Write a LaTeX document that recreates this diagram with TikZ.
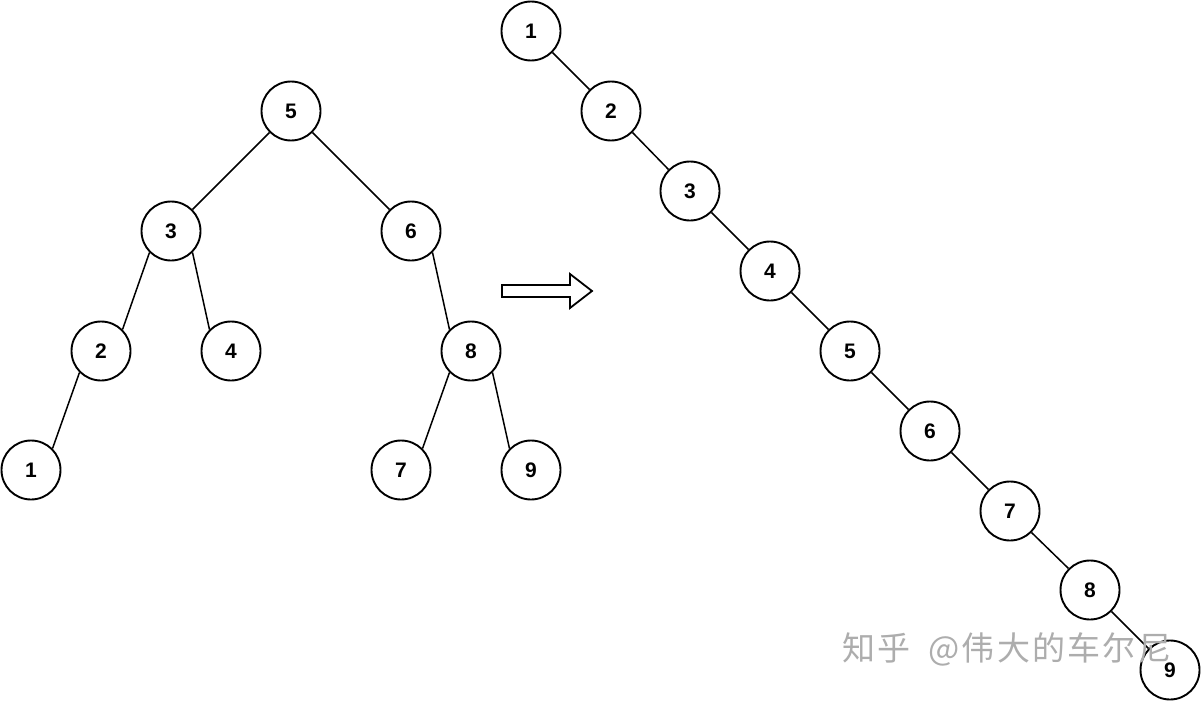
\documentclass[tikz,border=0pt]{standalone}
\usepackage{fontspec}
\setmainfont{Liberation Sans}
\newfontfamily\cjk[LetterSpace=7]{Noto Sans CJK SC}
\begin{document}
\begin{tikzpicture}[x=1pt,y=-1pt,
  tn/.style={circle,draw,line width=1.9pt,minimum size=59pt,inner sep=0pt,font=\fontsize{21}{21}\selectfont\bfseries},
  edge/.style={line width=1.5pt}]
\useasboundingbox (0,0) rectangle (1201,701);
% left tree
\node[tn] (a5) at (291,111) {5};
\node[tn] (a3) at (171,231) {3};
\node[tn] (a6) at (411,231) {6};
\node[tn] (a2) at (101,351) {2};
\node[tn] (a4) at (231,351) {4};
\node[tn] (a8) at (471,351) {8};
\node[tn] (a1) at (31,470) {1};
\node[tn] (a7) at (401,470) {7};
\node[tn] (a9) at (531,470) {9};
\draw[edge] (a5.-135)--(a3.45);
\draw[edge] (a5.-45)--(a6.135);
\draw[edge] (a3.-135)--(a2.45);
\draw[edge] (a3.-45)--(a4.135);
\draw[edge] (a2.-135)--(a1.45);
\draw[edge] (a6.-45)--(a8.135);
\draw[edge] (a8.-135)--(a7.45);
\draw[edge] (a8.-45)--(a9.135);
% arrow
\draw[line width=1.8pt,line join=miter] (502,285) -- (570,285) -- (570,274) -- (592,291) -- (570,308) -- (570,297) -- (502,297) -- cycle;
% right chain
\node[tn] (b1) at (531,31) {1};
\node[tn] (b2) at (611,111) {2};
\node[tn] (b3) at (690,191) {3};
\node[tn] (b4) at (770,271) {4};
\node[tn] (b5) at (850,351) {5};
\node[tn] (b6) at (930,431) {6};
\node[tn] (b7) at (1010,511) {7};
\node[tn] (b8) at (1090,590) {8};
\node[tn] (b9) at (1170,670) {9};
\foreach \i/\j in {1/2,2/3,3/4,4/5,5/6,6/7,7/8,8/9}{\draw[edge] (b\i.-45)--(b\j.135);}
% watermark
\node[anchor=west,text=black!32,font=\cjk\fontsize{33}{33}\selectfont,inner sep=0pt] (wm) at (842,649) {知乎\hspace{8pt} @伟大的车尔尼};
\end{tikzpicture}
\end{document}
